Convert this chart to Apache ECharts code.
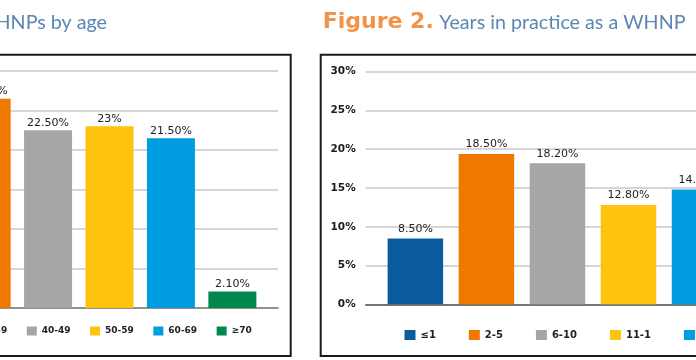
<!DOCTYPE html>
<html><head><meta charset="utf-8">
<script src="https://cdn.jsdelivr.net/npm/echarts/dist/echarts.min.js"></script>
<style>html,body{margin:0;padding:0;width:696px;height:360px;overflow:hidden;background:#fff}
#c{position:absolute;left:-200px;top:0;width:1100px;height:360px}</style>
</head><body><div id="c"></div>
<script>
// Figure 1 (partly visible): WHNPs by age
const ageGroups = ['30-39', '40-49', '50-59', '60-69', '≥70'];
const ageValues = [26.5, 22.5, 23, 21.5, 2.1];
const ageLabels = ['26.50%', '22.50%', '23%', '21.50%', '2.10%'];
// Figure 2: Years in practice as a WHNP
const yearGroups = ['≤1', '2-5', '6-10', '11-15', '16-20'];
const yearValues = [8.5, 19.4, 18.2, 12.8, 14.8];
const yearLabels = ['8.50%', '18.50%', '18.20%', '12.80%', '14.80%'];
// y axis ticks (percent)
const yTicks = [0, 5, 10, 15, 20, 25, 30];

const ageColors = ['#f07800', '#a6a6a6', '#ffc20e', '#009ee0', '#00874f'];
const yearColors = ['#0b5c9e', '#f07800', '#a6a6a6', '#ffc20e', '#009ee0'];

const OX = 200; // container offset
const chart = echarts.init(document.getElementById('c'), null, {renderer: 'canvas'});

function makeSeries(groups, values, labels, colors, idx, bw, dist) {
  return groups.map((g, i) => ({
    type: 'bar', name: g, xAxisIndex: idx, yAxisIndex: idx,
    data: [values[i]], barWidth: bw, barGap: '28%',
    itemStyle: {color: colors[i]},
    label: {show: true, position: 'top', distance: dist,
      formatter: () => labels[i], fontFamily: 'DejaVu Sans', fontSize: 11, color: '#222'},
    emphasis: {disabled: true}
  }));
}

const yAxisBase = (idx) => ({
  type: 'value', gridIndex: idx, min: yTicks[0], max: yTicks[yTicks.length - 1],
  interval: yTicks[1] - yTicks[0],
  axisLine: {show: false}, axisTick: {show: false},
  axisLabel: {formatter: '{value}%', fontFamily: 'DejaVu Sans', fontWeight: 'bold',
    fontSize: 10.5, color: '#1a1a1a', margin: 10},
  splitLine: {lineStyle: {color: '#c9c9c9', width: 1.5}}
});

chart.setOption({
  animation: false,
  grid: [
    {left: 141, width: 337, top: 71, height: 237},
    {left: 565.7, width: 383.5, top: 71.7, height: 232.6}
  ],
  xAxis: [
    {type: 'category', gridIndex: 0, data: [''], axisTick: {show: false}, axisLabel: {show: false},
      axisLine: {lineStyle: {color: '#7a7a7a', width: 1.5}}},
    {type: 'category', gridIndex: 1, data: [''], axisTick: {show: false}, axisLabel: {show: false},
      axisLine: {lineStyle: {color: '#555', width: 1.5}}}
  ],
  yAxis: [yAxisBase(0), yAxisBase(1)],
  legend: [
    {data: ageGroups, left: 163.5, top: 326.5, padding: 0, itemWidth: 10, itemHeight: 9,
      itemGap: 19.5, icon: 'rect', selectedMode: false,
      textStyle: {fontFamily: 'DejaVu Sans', fontWeight: 'bold', fontSize: 9, color: '#222', width: 30}},
    {data: yearGroups, left: 604.5, top: 330, padding: 0, itemWidth: 11, itemHeight: 10,
      itemGap: 33, icon: 'rect', selectedMode: false,
      textStyle: {fontFamily: 'DejaVu Sans', fontWeight: 'bold', fontSize: 10, color: '#222',
        width: 31, overflow: 'truncate', ellipsis: ''}}
  ],
  series: [
    ...makeSeries(ageGroups, ageValues, ageLabels, ageColors, 0, 48, 2),
    ...makeSeries(yearGroups, yearValues, yearLabels, yearColors, 1, 55.5, 4)
  ],
  graphic: [
    {type: 'rect', shape: {x: 0, y: 54.7, width: 490.7, height: 301.3},
      style: {fill: 'none', stroke: '#1a1a1a', lineWidth: 2}, silent: true},
    {type: 'rect', shape: {x: 520.7, y: 54.7, width: 600, height: 301.3},
      style: {fill: 'none', stroke: '#1a1a1a', lineWidth: 2}, silent: true},
    {type: 'text', style: {text: 'WHNPs by age', x: 107 + OX, y: 22.5, textAlign: 'right',
      textVerticalAlign: 'middle', font: '19.7px Lato', fill: '#5b86b4'}, silent: true},
    {type: 'text', style: {text: 'Figure 2.', x: 322.7 + OX, y: 22.5, textAlign: 'left',
      textVerticalAlign: 'middle', font: 'bold 22px "DejaVu Sans"', fill: '#f0944a'}, silent: true},
    {type: 'text', style: {text: 'Years in practice as a WHNP', x: 439.3 + OX, y: 22.5, textAlign: 'left',
      textVerticalAlign: 'middle', font: '19.7px Lato', fill: '#5b86b4'}, silent: true}
  ]
});
</script></body></html>
